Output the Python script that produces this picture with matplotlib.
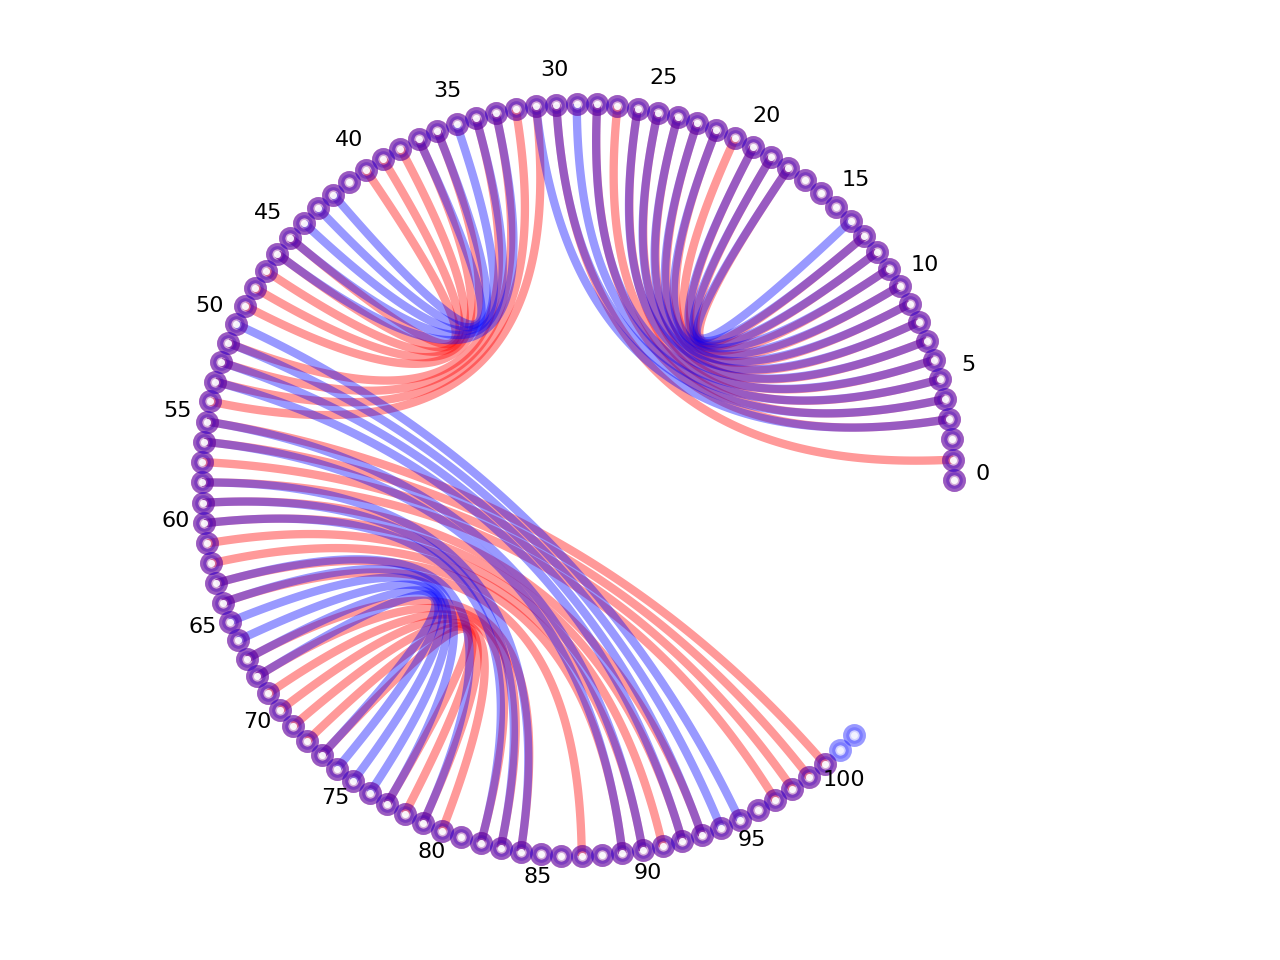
"""Circular arc diagram comparing two base-pairing structures (red vs blue)."""

import numpy as np
import matplotlib
matplotlib.use("Agg")
import matplotlib.pyplot as plt
from matplotlib.colors import to_rgba

# sequence lengths of the two structures
RED_LEN = 101
BLUE_LEN = 103

# base pairs (i, j) of each structure
RED_PAIRS = [
    (13, 18), (12, 19), (11, 20), (10, 21), (9, 22), (8, 23), (7, 24),
    (6, 25), (5, 26), (4, 27), (3, 28), (1, 30),
    (40, 45), (39, 46), (38, 47), (37, 48), (36, 49), (34, 51), (33, 52),
    (32, 53), (31, 54),
    (73, 77), (72, 78), (71, 79), (70, 80), (69, 82), (68, 83), (67, 84),
    (64, 87), (63, 89), (62, 90), (61, 91), (60, 92), (59, 93), (58, 97),
    (57, 98), (56, 99), (55, 100),
]
BLUE_PAIRS = [
    (14, 18), (13, 19), (12, 20), (11, 22), (10, 23), (9, 24), (8, 25),
    (7, 26), (6, 28), (5, 29), (4, 30), (3, 31),
    (37, 42), (36, 43), (35, 44), (34, 45), (33, 46),
    (68, 73), (67, 74), (66, 75), (65, 76), (64, 77), (63, 79), (60, 82),
    (59, 83), (58, 84), (56, 89), (55, 90), (53, 92), (52, 93), (51, 94),
    (50, 95),
]
TICKS = list(range(0, 101, 5))

STEP = np.radians(3.11)   # angle between neighbouring positions


def position(i):
    """Unit-circle coordinates of sequence position i."""
    a = np.asarray(i) * STEP
    return np.cos(a), np.sin(a)


def arc(i, j, n=120):
    """Quadratic Bezier from i to j with the control point at the centre."""
    t = np.linspace(0, 1, n)
    x0, y0 = position(i)
    x1, y1 = position(j)
    return (1 - t)**2 * x0 + t**2 * x1, (1 - t)**2 * y0 + t**2 * y1


fig = plt.figure(figsize=(12.8, 9.6), dpi=100)
ax = fig.add_axes([0, 0, 1, 1])
scale = 376.0
ax.set_xlim(-578 / scale, (1280 - 578) / scale)
ax.set_ylim(-480 / scale, 480 / scale)
ax.axis('off')

structures = [('red', RED_LEN, RED_PAIRS), ('blue', BLUE_LEN, BLUE_PAIRS)]

# arcs
for color, length, pairs in structures:
    for i, j in pairs:
        xs, ys = arc(i, j)
        ax.plot(xs, ys, color=color, alpha=0.4, lw=6, solid_capstyle='butt')

# position markers: tinted ring, light dot in the middle
for color, length, pairs in structures:
    px, py = position(np.arange(length))
    ax.plot(px, py, 'o', ls='none', ms=12, mew=4.5,
            mfc=to_rgba(color, 0.18), mec=to_rgba(color, 0.4))
for color, length, pairs in structures:
    px, py = position(np.arange(length))
    ax.plot(px, py, 'o', ls='none', ms=5, mew=0, mfc='white', alpha=0.7)

for k in TICKS:
    x, y = position(k)
    ax.text(1.077 * x, 1.077 * y, str(k), ha='center', va='baseline',
            fontsize=16)

fig.savefig('out.png', dpi=100)
